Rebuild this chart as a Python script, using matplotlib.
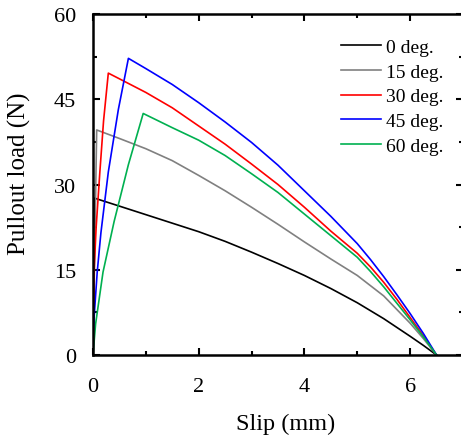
import matplotlib
matplotlib.use("Agg")
import matplotlib.pyplot as plt
from matplotlib.ticker import MultipleLocator

plt.rcParams['font.family'] = ['Liberation Serif', 'DejaVu Serif']
plt.rcParams['mathtext.fontset'] = 'stix'

labels = ["0 deg.", "15 deg.", "30 deg.", "45 deg.", "60 deg."]
colors = ["#000000", "#808080", "#ff0000", "#0000ff", "#00b050"]

x0 = [0.0, 0.03, 0.5, 1.0, 1.5, 2.0, 2.5, 3.0, 3.5, 4.0, 4.5, 5.0, 5.5, 6.0, 6.25, 6.5]
y0 = [0.0, 27.6, 26.2, 24.7, 23.2, 21.7, 20.0, 18.1, 16.1, 14.0, 11.7, 9.2, 6.4, 3.3, 1.7, 0.0]

x15 = [0.0, 0.07, 0.5, 1.0, 1.5, 2.0, 2.5, 3.0, 3.5, 4.0, 4.5, 5.0, 5.5, 6.0, 6.25, 6.5]
y15 = [0.0, 39.6, 38.1, 36.3, 34.2, 31.6, 28.9, 26.0, 23.0, 19.9, 16.9, 14.0, 10.4, 5.6, 2.9, 0.0]

x30 = [0.0, 0.02, 0.06, 0.13, 0.2, 0.29, 0.5, 1.0, 1.5, 2.0, 2.5, 3.0, 3.5, 4.0, 4.5,
       5.0, 5.25, 5.5, 5.75, 6.0, 6.25, 6.5]
y30 = [0.0, 14.6, 22.5, 32.2, 41.2, 49.6, 48.6, 46.2, 43.5, 40.3, 37.1, 33.6, 30.0, 26.0, 21.8,
       17.9, 15.5, 12.8, 9.8, 6.6, 3.4, 0.0]

x45 = [0.0, 0.02, 0.08, 0.15, 0.29, 0.48, 0.67, 1.0, 1.5, 2.0, 2.5, 3.0, 3.5, 4.0, 4.5,
       5.0, 5.25, 5.5, 5.75, 6.0, 6.25, 6.5]
y45 = [0.0, 6.5, 14.6, 21.5, 32.2, 43.2, 52.2, 50.4, 47.6, 44.4, 41.0, 37.4, 33.4, 28.9, 24.4,
       19.6, 16.8, 13.8, 10.6, 7.3, 3.8, 0.0]

x60 = [0.0, 0.05, 0.19, 0.4, 0.67, 0.95, 1.5, 2.0, 2.5, 3.0, 3.5, 4.0, 4.5,
       5.0, 5.25, 5.5, 5.75, 6.0, 6.25, 6.5]
y60 = [0.0, 5.5, 14.6, 23.5, 33.5, 42.5, 40.0, 37.8, 35.1, 31.9, 28.6, 24.8, 21.0,
       17.2, 14.7, 12.0, 9.1, 6.2, 3.2, 0.0]

series = [(x0, y0), (x15, y15), (x30, y30), (x45, y45), (x60, y60)]

fig = plt.figure(figsize=(4.61, 4.39), dpi=100)
ax = fig.add_axes([0.2017, 0.189, 0.8026, 0.7768])

for (xs, ys), c, lab in zip(series, colors, labels):
    ax.plot(xs, ys, color=c, lw=1.2, label=lab)

ax.set_xlim(0, 7)
ax.set_ylim(0, 60)
ax.xaxis.set_major_locator(MultipleLocator(2))
ax.xaxis.set_minor_locator(MultipleLocator(1))
ax.yaxis.set_major_locator(MultipleLocator(15))
ax.yaxis.set_minor_locator(MultipleLocator(7.5))
ax.tick_params(which='both', direction='in', top=True, right=True, width=1.5)
ax.tick_params(which='major', length=5, labelsize=16)
ax.tick_params(axis='x', which='major', pad=16)
ax.tick_params(axis='y', which='major', pad=12)
ax.tick_params(which='minor', length=3)
for s in ax.spines.values():
    s.set_linewidth(1.8)

ax.set_xlabel("Slip (mm)", fontsize=17.5)
ax.set_ylabel("Pullout load (N)", fontsize=18)
ax.xaxis.set_label_coords(0.522, -0.170)
ax.yaxis.set_label_coords(-0.168, 0.534)

leg = ax.legend(loc='upper right', bbox_to_anchor=(0.985, 0.968), frameon=False,
                fontsize=14, handlelength=2.06, handletextpad=0.28,
                labelspacing=0.36, borderaxespad=0.3)

fig.savefig("out.png", dpi=100)
